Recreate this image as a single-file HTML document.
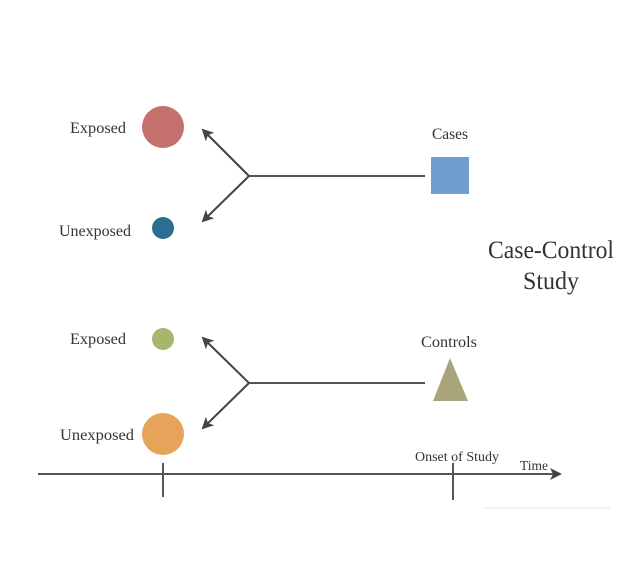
<!DOCTYPE html>
<html><head><style>
html,body{margin:0;padding:0;background:#fff;}
svg{display:block;}
text{font-family:"Liberation Serif",serif;fill:#333;}
</style></head><body>
<svg width="637" height="571" viewBox="0 0 637 571" xmlns="http://www.w3.org/2000/svg">
<defs>
<marker id="a" markerWidth="13" markerHeight="12" refX="10" refY="6" orient="auto" markerUnits="userSpaceOnUse">
<path d="M0,0 L12,6 L0,12 L3,6 z" fill="#444"/>
</marker>
</defs>
<!-- top -->
<circle cx="163" cy="127" r="21" fill="#c4706c"/>
<circle cx="163" cy="228" r="11" fill="#2d6d8f"/>
<text x="98" y="133" font-size="16" text-anchor="middle" textLength="56" lengthAdjust="spacingAndGlyphs">Exposed</text>
<text x="95" y="236" font-size="16" text-anchor="middle" textLength="72" lengthAdjust="spacingAndGlyphs">Unexposed</text>
<line x1="425" y1="176" x2="249" y2="176" stroke="#555" stroke-width="2"/>
<line x1="249" y1="176" x2="203" y2="130" stroke="#444" stroke-width="2" marker-end="url(#a)"/>
<line x1="249" y1="176" x2="203" y2="221" stroke="#444" stroke-width="2" marker-end="url(#a)"/>
<rect x="431" y="157" width="38" height="37" fill="#6f9fcf"/>
<text x="450" y="139" font-size="16" text-anchor="middle" textLength="36" lengthAdjust="spacingAndGlyphs">Cases</text>
<!-- title -->
<text x="551" y="258" font-size="25" text-anchor="middle" textLength="126" lengthAdjust="spacingAndGlyphs">Case-Control</text>
<text x="551" y="289" font-size="25" text-anchor="middle" textLength="56" lengthAdjust="spacingAndGlyphs">Study</text>
<!-- bottom -->
<circle cx="163" cy="339" r="11" fill="#a4b76c"/>
<circle cx="163" cy="434" r="21" fill="#e8a35a"/>
<text x="98" y="344" font-size="16" text-anchor="middle" textLength="56" lengthAdjust="spacingAndGlyphs">Exposed</text>
<text x="97" y="440" font-size="16" text-anchor="middle" textLength="74" lengthAdjust="spacingAndGlyphs">Unexposed</text>
<line x1="425" y1="383" x2="249" y2="383" stroke="#555" stroke-width="2"/>
<line x1="249" y1="383" x2="203" y2="338" stroke="#444" stroke-width="2" marker-end="url(#a)"/>
<line x1="249" y1="383" x2="203" y2="428" stroke="#444" stroke-width="2" marker-end="url(#a)"/>
<polygon points="450,358 468,401 433,401" fill="#a9a47a"/>
<text x="449" y="347" font-size="16" text-anchor="middle" textLength="56" lengthAdjust="spacingAndGlyphs">Controls</text>
<!-- timeline -->
<line x1="38" y1="474" x2="560" y2="474" stroke="#555" stroke-width="2" marker-end="url(#a)"/>
<line x1="163" y1="463" x2="163" y2="497" stroke="#555" stroke-width="2"/>
<line x1="453" y1="463" x2="453" y2="500" stroke="#555" stroke-width="2"/>
<text x="457" y="461" font-size="14" text-anchor="middle" textLength="84" lengthAdjust="spacingAndGlyphs">Onset of Study</text>
<text x="534" y="470" font-size="14" text-anchor="middle" textLength="28" lengthAdjust="spacingAndGlyphs">Time</text>
<line x1="483" y1="508" x2="610" y2="508" stroke="#e4e4e4" stroke-width="1"/>
</svg>
</body></html>
